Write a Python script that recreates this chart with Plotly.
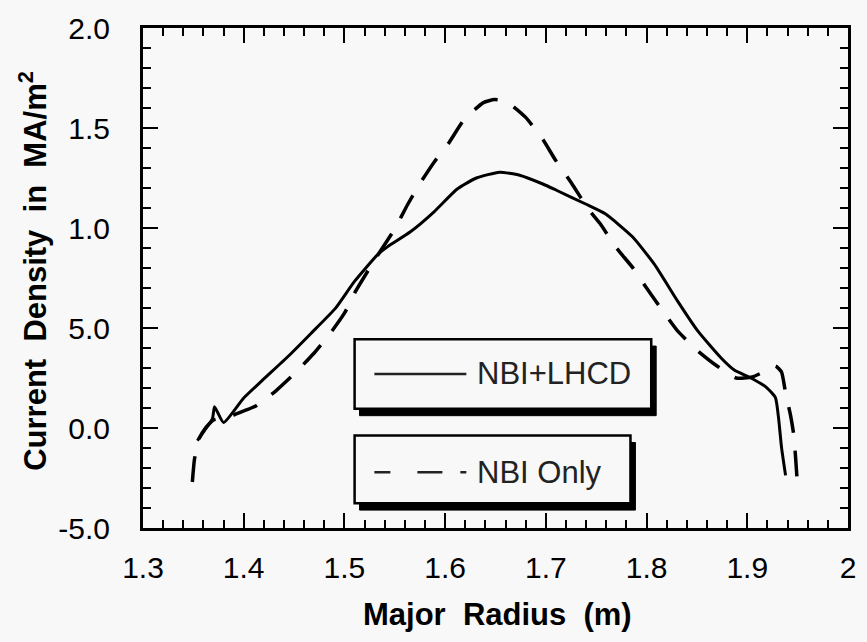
import plotly.graph_objects as go

# ---- data ----
r_lhcd = [1.354, 1.361, 1.369, 1.371, 1.380, 1.400, 1.418, 1.4445, 1.467, 1.491, 1.510, 1.533,
          1.543, 1.5655, 1.589, 1.612, 1.631, 1.654, 1.674, 1.697, 1.710, 1.7395, 1.759, 1.786,
          1.808, 1.831, 1.851, 1.874, 1.887, 1.9037, 1.9195, 1.928, 1.931, 1.934, 1.938]
j_lhcd = [-0.063, -0.013, 0.047, 0.106, 0.027, 0.15, 0.236, 0.36, 0.474, 0.598, 0.733, 0.867,
          0.907, 0.981, 1.081, 1.195, 1.25, 1.279, 1.264, 1.22, 1.19, 1.12, 1.071, 0.956,
          0.817, 0.633, 0.484, 0.35, 0.29, 0.25, 0.201, 0.151, 0.052, -0.097, -0.237]

r_nbi = [1.349, 1.351, 1.355, 1.362, 1.370, 1.380, 1.390, 1.400, 1.412, 1.432, 1.451, 1.469,
         1.486, 1.500, 1.511, 1.530, 1.550, 1.5625, 1.574, 1.589, 1.604, 1.619, 1.638, 1.649,
         1.661, 1.680, 1.697, 1.709, 1.726, 1.742, 1.754, 1.769, 1.787, 1.800, 1.815, 1.831,
         1.851, 1.870, 1.889, 1.905, 1.918, 1.928, 1.934, 1.938, 1.943, 1.946, 1.948, 1.950]
j_nbi = [-0.27, -0.16, -0.06, 0.0, 0.04, 0.05, 0.065, 0.085, 0.11, 0.186, 0.275, 0.37,
         0.474, 0.574, 0.683, 0.84, 0.996, 1.115, 1.215, 1.329, 1.428, 1.543, 1.627, 1.642,
         1.632, 1.553, 1.443, 1.344, 1.22, 1.095, 1.021, 0.907, 0.797, 0.70, 0.593, 0.484,
         0.385, 0.31, 0.25, 0.255, 0.285, 0.31, 0.28, 0.176, 0.062, -0.03, -0.15, -0.30]

x_tickvals = [1.3, 1.4, 1.5, 1.6, 1.7, 1.8, 1.9, 2.0]
x_ticktext = ["1.3", "1.4", "1.5", "1.6", "1.7", "1.8", "1.9", "2"]
y_tickvals = [-0.5, 0.0, 0.5, 1.0, 1.5, 2.0]
y_ticktext = ["-5.0", "0.0", "5.0", "1.0", "1.5", "2.0"]

labels = ["NBI+LHCD", "NBI Only"]

BG = "#f8f8f8"
FONT = "Liberation Sans, Arial, Helvetica, sans-serif"

W, H = 867, 642
ML, MR, MT, MB = 143, 11, 25, 114
PW, PH = W - ML - MR, H - MT - MB


def px(xp):
    return (xp - ML) / PW


def py(yp):
    return (H - MB - yp) / PH


fig = go.Figure()
fig.add_trace(go.Scatter(x=r_lhcd, y=j_lhcd, mode="lines", name=labels[0],
                         line=dict(color="black", width=3, shape="spline", smoothing=0.5),
                         showlegend=False))
fig.add_trace(go.Scatter(x=r_nbi, y=j_nbi, mode="lines", name=labels[1],
                         line=dict(color="black", width=3.5, dash="26px,18px",
                                   shape="spline", smoothing=0.5),
                         showlegend=False))

shapes = []
annotations = []
# legend boxes with 3D shadow
boxes = [(357, 338, 657, 408, 373, "solid", labels[0]),
         (357, 435, 636, 503, 472, "16px,27px,25px,18px", labels[1])]
for (x0, y0, x1, y1, yc, dash, lab) in boxes:
    shapes.append(dict(type="rect", xref="paper", yref="paper",
                       x0=px(x0 + 5), x1=px(x1 + 5), y0=py(y1 + 7), y1=py(y0 + 7),
                       fillcolor="black", line=dict(color="black", width=1), layer="above"))
    shapes.append(dict(type="rect", xref="paper", yref="paper",
                       x0=px(x0), x1=px(x1), y0=py(y1), y1=py(y0),
                       fillcolor=BG, line=dict(color="black", width=2.5), layer="above"))
    shapes.append(dict(type="line", xref="paper", yref="paper",
                       x0=px(377), x1=px(470), y0=py(yc), y1=py(yc),
                       line=dict(color="#222", width=2.5, dash=dash), layer="above"))
    annotations.append(dict(xref="paper", yref="paper", x=px(479), y=py(yc),
                            xanchor="left", yanchor="middle", showarrow=False, text=lab,
                            font=dict(family=FONT, size=31, color="#222")))

annotations.append(dict(xref="paper", yref="paper", x=px(502), y=py(615),
                        xanchor="center", yanchor="middle", showarrow=False,
                        text="Major\u00a0 Radius\u00a0 (m)",
                        font=dict(family=FONT, size=31, color="black", weight="bold")))
annotations.append(dict(xref="paper", yref="paper", x=px(31), y=py(269),
                        xanchor="center", yanchor="middle", showarrow=False, textangle=-90,
                        text="Current\u00a0 Density\u00a0 in\u00a0 MA/m<sup>2</sup>",
                        font=dict(family=FONT, size=31, color="black", weight="bold")))

axis_common = dict(showgrid=False, zeroline=False, showline=True, linecolor="black",
                   linewidth=3, mirror="ticks", ticks="inside", ticklen=15, tickwidth=2,
                   tickcolor="black", tickfont=dict(family=FONT, size=30, color="black"))

fig.update_xaxes(range=[1.3, 2.0], tickvals=x_tickvals, ticktext=x_ticktext,
                 minor=dict(dtick=0.02, ticklen=8, tickwidth=2, ticks="inside", tickcolor="black"),
                 ticklabelstandoff=11, **axis_common)
fig.update_yaxes(range=[-0.5, 2.0], tickvals=y_tickvals, ticktext=y_ticktext,
                 minor=dict(dtick=0.1, ticklen=8, tickwidth=2, ticks="inside", tickcolor="black"),
                 ticklabelstandoff=24, **axis_common)

fig.update_layout(width=W, height=H, margin=dict(l=ML, r=MR, t=MT, b=MB),
                  paper_bgcolor=BG, plot_bgcolor=BG, shapes=shapes, annotations=annotations,
                  showlegend=False)

fig.write_html("out.html")
